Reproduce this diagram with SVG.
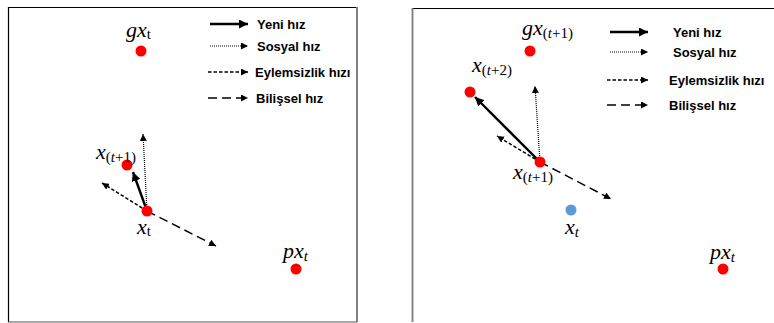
<svg xmlns="http://www.w3.org/2000/svg" width="774" height="323" viewBox="0 0 774 323">
<defs>
<marker id="ah" viewBox="0 0 10 10" refX="10" refY="5" markerWidth="7" markerHeight="7" markerUnits="userSpaceOnUse" orient="auto">
<path d="M0,0 L10,5 L0,10 z" fill="#000"/>
</marker>
<marker id="ahb" viewBox="0 0 10 10" refX="10" refY="5" markerWidth="9" markerHeight="9" markerUnits="userSpaceOnUse" orient="auto">
<path d="M0,0 L10,5 L0,10 z" fill="#000"/>
</marker>
</defs>
<style>
.solid{stroke:#000;stroke-width:2.4;fill:none;marker-end:url(#ahb)}
.dot{stroke:#000;stroke-width:1.2;fill:none;stroke-dasharray:1 1;marker-end:url(#ah)}
.dash{stroke:#000;stroke-width:1.5;fill:none;stroke-dasharray:3.5 2;marker-end:url(#ah)}
.ldash{stroke:#000;stroke-width:1.5;fill:none;stroke-dasharray:9 5;marker-end:url(#ah)}
.leg{font-family:"Liberation Sans",Arial,sans-serif;font-weight:bold;font-size:13px;fill:#000}
.m{font-family:"Liberation Serif","DejaVu Serif",serif;font-style:italic;font-size:22px;fill:#000}
.s{font-size:15px}
.u{font-style:normal}
.red{fill:#ff0000}
.blue{fill:#5b9bd5}
</style>
<g id="frames">
<path d="M8.5,322 V7.5 H357" stroke="#000" stroke-width="1.2" fill="none"/>
<line x1="357" y1="7" x2="357" y2="322" stroke="#808080" stroke-width="2"/>
<line x1="8" y1="322" x2="357" y2="322" stroke="#555" stroke-width="1.2"/>
<path d="M412.5,322 V8.5 H774" stroke="#000" stroke-width="1.2" fill="none"/>
<line x1="412.5" y1="8" x2="412.5" y2="322" stroke="#808080" stroke-width="1.6"/>
</g>
<g id="legend-left">
<line x1="210" y1="24" x2="248" y2="24" class="solid"/>
<text x="257" y="29" class="leg">Yeni hız</text>
<line x1="210" y1="46" x2="248" y2="46" class="dot"/>
<text x="257" y="51" class="leg">Sosyal hız</text>
<line x1="208" y1="72" x2="248" y2="72" class="dash"/>
<text x="255" y="77" class="leg">Eylemsizlik hızı</text>
<line x1="208" y1="98" x2="248" y2="98" class="ldash"/>
<text x="256" y="103" class="leg">Bilişsel hız</text>
</g>
<g id="legend-right">
<line x1="610" y1="32" x2="648" y2="32" class="solid"/>
<text x="673" y="37" class="leg">Yeni hız</text>
<line x1="610" y1="52" x2="648" y2="52" class="dot"/>
<text x="673" y="57" class="leg">Sosyal hız</text>
<line x1="607" y1="80" x2="648" y2="80" class="dash"/>
<text x="669" y="85" class="leg">Eylemsizlik hızı</text>
<line x1="607" y1="105" x2="648" y2="105" class="ldash"/>
<text x="669" y="110" class="leg">Bilişsel hız</text>
</g>
<g id="connectors">
<line x1="147" y1="211" x2="143" y2="134" class="dot"/>
<line x1="147" y1="211" x2="102" y2="183" class="dash"/>
<line x1="147" y1="211" x2="216" y2="246" class="ldash"/>
<line x1="147" y1="211" x2="133" y2="172" class="solid"/>
<line x1="540" y1="162" x2="535" y2="86" class="dot"/>
<line x1="540" y1="162" x2="497" y2="136" class="dash"/>
<line x1="540" y1="162" x2="611" y2="199" class="ldash"/>
<line x1="540" y1="162" x2="475" y2="97" class="solid"/>
</g>
<g id="gx-left">
<circle cx="141" cy="51" r="5.5" class="red"/>
<text x="126" y="37" class="m">gx<tspan class="s u" dy="2">t</tspan></text>
</g>
<g id="xt1-left">
<circle cx="127" cy="165" r="5.5" class="red"/>
<text x="96" y="159" class="m">x<tspan class="s" dy="3"><tspan class="u">(</tspan>t<tspan class="u">+1)</tspan></tspan></text>
</g>
<g id="xt-left">
<circle cx="147" cy="211" r="5.5" class="red"/>
<text x="137" y="234" class="m">x<tspan class="s u" dy="2">t</tspan></text>
</g>
<g id="px-left">
<circle cx="296" cy="269" r="5.5" class="red"/>
<text x="283" y="258" class="m">px<tspan class="s" dy="3">t</tspan></text>
</g>
<g id="gx-right">
<circle cx="530" cy="51" r="5.5" class="red"/>
<text x="522" y="35" class="m">gx<tspan class="s" dy="3"><tspan class="u">(</tspan>t<tspan class="u">+1)</tspan></tspan></text>
</g>
<g id="xt2-right">
<circle cx="470" cy="92" r="5.5" class="red"/>
<text x="472" y="72" class="m">x<tspan class="s" dy="3"><tspan class="u">(</tspan>t<tspan class="u">+2)</tspan></tspan></text>
</g>
<g id="xt1-right">
<circle cx="540" cy="162" r="5.5" class="red"/>
<text x="513" y="179" class="m">x<tspan class="s" dy="3"><tspan class="u">(</tspan>t<tspan class="u">+1)</tspan></tspan></text>
</g>
<g id="xt-right">
<circle cx="571" cy="210" r="5.5" class="blue"/>
<text x="565" y="234" class="m">x<tspan class="s" dy="3">t</tspan></text>
</g>
<g id="px-right">
<circle cx="723" cy="269" r="5.5" class="red"/>
<text x="710" y="259" class="m">px<tspan class="s" dy="3">t</tspan></text>
</g>
</svg>
